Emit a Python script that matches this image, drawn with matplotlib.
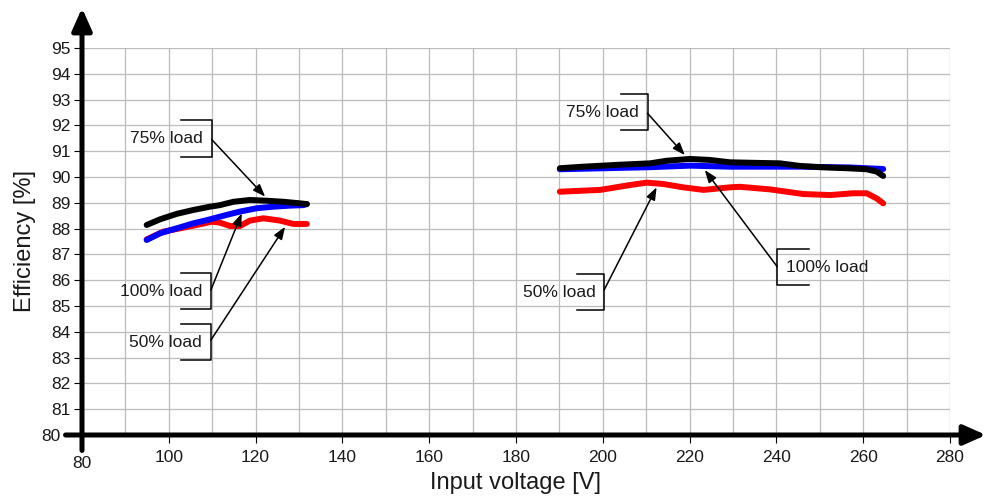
import matplotlib
matplotlib.use("Agg")
import matplotlib.pyplot as plt
from matplotlib.transforms import ScaledTranslation
import numpy as np

plt.rcParams['font.family'] = ['Liberation Sans', 'DejaVu Sans']

# ---------------- data ----------------
x_ticks = [80, 100, 120, 140, 160, 180, 200, 220, 240, 260, 280]
x_tick_labels = ["80", "100", "120", "140", "160", "180", "200", "220", "240", "260", "280"]
y_ticks = list(range(80, 96))
y_tick_labels = [str(v) for v in y_ticks]

# low-line group (95-132 V)
lo_v_black = [94.9, 98.0, 101.8, 105.6, 109.5, 111.8, 114.9, 118.7, 122.6, 126.4, 130.2, 131.8]
lo_e_black = [88.14, 88.36, 88.57, 88.72, 88.85, 88.91, 89.04, 89.11, 89.08, 89.04, 88.98, 88.95]
lo_v_blue = [94.9, 98.0, 101.8, 105.6, 109.5, 113.3, 116.4, 120.3, 124.1, 127.9, 131.0, 131.8]
lo_e_blue = [87.56, 87.82, 88.01, 88.20, 88.36, 88.53, 88.66, 88.79, 88.85, 88.89, 88.91, 88.95]
lo_v_red = [94.9, 98.7, 102.6, 106.4, 109.9, 111.8, 114.1, 116.4, 118.7, 121.8, 125.6, 128.7, 131.8]
lo_e_red = [87.58, 87.88, 88.01, 88.14, 88.27, 88.23, 88.10, 88.10, 88.31, 88.40, 88.31, 88.18, 88.18]

# high-line group (190-265 V)
hi_v_black = [190.1, 195.5, 203.2, 210.9, 214.7, 220.1, 224.7, 229.3, 234.7, 240.8,
              245.4, 250.0, 256.2, 260.8, 263.1, 264.6]
hi_e_black = [90.34, 90.40, 90.47, 90.53, 90.63, 90.70, 90.66, 90.57, 90.55, 90.53,
              90.43, 90.38, 90.34, 90.30, 90.21, 90.04]
hi_v_blue = [190.1, 210.9, 220.1, 229.3, 245.4, 256.9, 264.6]
hi_e_blue = [90.30, 90.38, 90.44, 90.40, 90.40, 90.37, 90.31]
hi_v_red = [190.1, 199.4, 206.3, 210.1, 213.9, 218.5, 223.2, 229.3, 231.6, 238.5,
            246.2, 252.4, 257.7, 260.8, 263.1, 264.6]
hi_e_red = [89.43, 89.50, 89.69, 89.78, 89.73, 89.60, 89.50, 89.60, 89.62, 89.52,
            89.34, 89.30, 89.37, 89.37, 89.17, 88.98]

x_label = "Input voltage [V]"
y_label = "Efficiency [%]"

# ---------------- figure ----------------
W, H = 987, 497
fig = plt.figure(figsize=(W / 100, H / 100), dpi=100)
ax = fig.add_axes([82 / W, (H - 435) / H, (950 - 82) / W, (435 - 48) / H])
ax.set_xlim(80, 280)
ax.set_ylim(80, 95)
for s in ax.spines.values():
    s.set_visible(False)

txt_color = '#1a1a1a'
grid_color = '#bcbcbc'

# grid
for gx in np.arange(90, 281, 10):
    ax.plot([gx, gx], [80, 95], color=grid_color, lw=0.9, zorder=0)
for gy in np.arange(81, 96, 1):
    ax.plot([80, 280], [gy, gy], color=grid_color, lw=0.9, zorder=0)

# ticks
ax.set_xticks(x_ticks)
ax.set_xticklabels(x_tick_labels)
ax.set_yticks(y_ticks)
ax.set_yticklabels(y_tick_labels)
ax.tick_params(axis='x', direction='out', length=6, width=0.8, pad=4.5,
               labelsize=12.5, labelcolor=txt_color)
ax.tick_params(axis='y', direction='out', length=6, width=0.8, pad=2,
               labelsize=12.5, labelcolor=txt_color)
lbl0 = ax.get_xticklabels()[0]
lbl0.set_transform(lbl0.get_transform() + ScaledTranslation(0, -0.065, fig.dpi_scale_trans))
ylbl0 = ax.get_yticklabels()[0]
ylbl0.set_transform(ylbl0.get_transform() + ScaledTranslation(-0.10, 0, fig.dpi_scale_trans))

# axis labels
ax.set_xlabel(x_label, fontsize=17, color=txt_color)
ax.xaxis.set_label_coords(0.5, -0.124)
ax.xaxis.label.set_va('center')
ax.set_ylabel(y_label, fontsize=17, color=txt_color)
ax.yaxis.set_label_coords(-0.066, 0.5)
ax.yaxis.label.set_va('center')

# main axes with arrows
arrow_kw = dict(arrowstyle='-|>,head_length=1.35,head_width=0.6', lw=3.6,
                color='black', mutation_scale=10, shrinkA=0, shrinkB=0)
ax.annotate('', xy=(288.3, 80), xytext=(76.2, 80), arrowprops=arrow_kw,
            annotation_clip=False, zorder=5)
ax.annotate('', xy=(80, 96.55), xytext=(80, 79.4), arrowprops=arrow_kw,
            annotation_clip=False, zorder=5)

# data lines
lw = 4.3
for v, e, c in [(lo_v_red, lo_e_red, '#ff0000'), (hi_v_red, hi_e_red, '#ff0000'),
                (lo_v_blue, lo_e_blue, '#0000ff'), (hi_v_blue, hi_e_blue, '#0000ff'),
                (lo_v_black, lo_e_black, 'black'), (hi_v_black, hi_e_black, 'black')]:
    ax.plot(v, e, color=c, lw=lw, solid_capstyle='round', solid_joinstyle='round', zorder=3)

# callouts
def callout(text, side, bx0, bx1, ytop, ybot, ytext, start, tip):
    ax.plot([bx0, bx1, bx1, bx0] if side == 'left' else [bx1, bx0, bx0, bx1],
            [ytop, ytop, ybot, ybot], color='black', lw=1.1, zorder=4)
    if side == 'left':
        ax.text(bx1 - 2.0, ytext, text, ha='right', va='center', fontsize=12.5,
                color=txt_color, zorder=4)
    else:
        ax.text(bx0 + 2.1, ytext, text, ha='left', va='center', fontsize=12.5,
                color=txt_color, zorder=4)
    ax.annotate('', xy=tip, xytext=start,
                arrowprops=dict(arrowstyle='-|>,head_length=0.75,head_width=0.28',
                                lw=1.1, color='black', mutation_scale=10,
                                shrinkA=0, shrinkB=0), zorder=4)

callout("75% load", 'left', 102.9, 109.9, 92.21, 90.79, 91.48, (109.9, 91.45), (122.2, 89.24))
callout("100% load", 'left', 102.9, 109.7, 86.27, 84.88, 85.55, (109.7, 85.62), (116.8, 88.59))
callout("50% load", 'left', 102.9, 109.7, 84.29, 82.91, 83.57, (109.7, 83.68), (126.8, 88.07))
callout("75% load", 'left', 204.3, 210.3, 93.22, 91.82, 92.50, (210.3, 92.47), (218.9, 90.85))
callout("50% load", 'left', 194.1, 200.3, 86.24, 84.84, 85.52, (200.3, 85.62), (212.4, 89.60))
callout("100% load", 'right', 240.2, 247.4, 87.20, 85.81, 86.50, (240.2, 86.52), (223.5, 90.27))

fig.savefig("out.png", dpi=100)
